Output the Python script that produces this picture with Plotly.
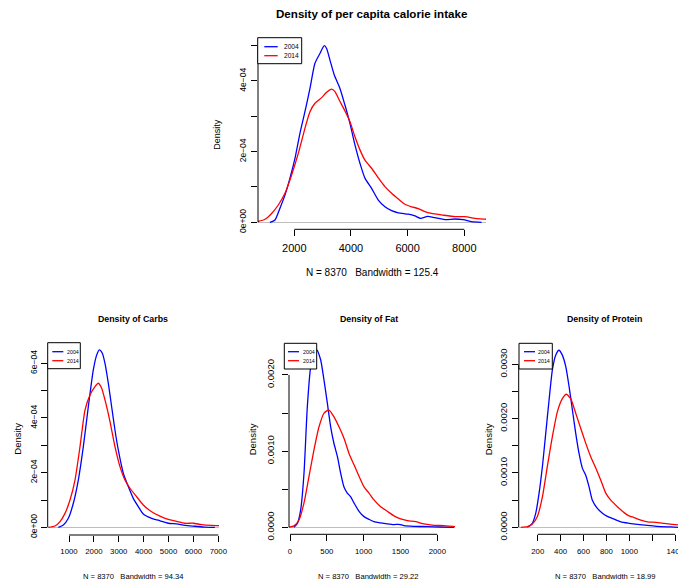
import plotly.graph_objects as go

W, H = 678, 584
BLUE, RED, GRAY = "#0000FF", "#FF0000", "#BEBEBE"
FONT = "Liberation Sans, Arial, Helvetica, sans-serif"
YEARS = ["2004", "2014"]

# ---------------- data ----------------
# Per capita calorie intake
cal_x_2004 = [1141, 1318, 1494, 1671, 1847, 2024, 2200, 2376, 2553, 2729, 2906, 3059, 3141, 3259,
              3412, 3612, 3788, 3965, 4141, 4318, 4494, 4729, 4965, 5200, 5435, 5671, 6024, 6259,
              6459, 6706, 6965, 7318, 7671, 7965, 8259, 8612]
cal_y_2004 = [0.0, 0.066e-4, 0.40e-4, 0.77e-4, 1.25e-4, 1.81e-4, 2.52e-4, 3.13e-4, 3.79e-4, 4.50e-4,
              4.78e-4, 5.00e-4, 4.92e-4, 4.59e-4, 4.17e-4, 3.79e-4, 3.32e-4, 2.80e-4, 2.19e-4, 1.67e-4,
              1.25e-4, 0.96e-4, 0.63e-4, 0.44e-4, 0.33e-4, 0.27e-4, 0.23e-4, 0.18e-4, 0.11e-4, 0.17e-4,
              0.13e-4, 0.075e-4, 0.094e-4, 0.075e-4, 0.02e-4, 0.0]
cal_x_2014 = [612, 965, 1200, 1435, 1671, 1906, 2141, 2376, 2553, 2729, 2965, 3141, 3318, 3435, 3612,
              3788, 3965, 4141, 4318, 4494, 4729, 4965, 5200, 5435, 5671, 5906, 6141, 6376, 6612, 6847,
              7200, 7671, 8024, 8376, 8729, 9100, 9500]
cal_y_2014 = [0.0, 0.085e-4, 0.25e-4, 0.49e-4, 0.82e-4, 1.34e-4, 1.95e-4, 2.66e-4, 3.13e-4, 3.37e-4,
              3.53e-4, 3.68e-4, 3.77e-4, 3.70e-4, 3.42e-4, 3.15e-4, 2.85e-4, 2.42e-4, 2.05e-4, 1.76e-4,
              1.53e-4, 1.26e-4, 1.01e-4, 0.82e-4, 0.66e-4, 0.51e-4, 0.44e-4, 0.39e-4, 0.30e-4, 0.25e-4,
              0.21e-4, 0.16e-4, 0.16e-4, 0.11e-4, 0.09e-4, 0.05e-4, 0.02e-4]
cal_xticks = [2000, 4000, 6000, 8000]
cal_xlabels = ["2000", "4000", "6000", "8000"]
cal_yticks = [0, 1e-4, 2e-4, 3e-4, 4e-4, 5e-4]
cal_ylabels = ["0e+00", "", "2e\u221204", "", "4e\u221204", ""]

# Carbs
carb_x_2004 = [572, 772, 973, 1174, 1375, 1576, 1776, 1977, 2111, 2218, 2339, 2446, 2580, 2714, 2847,
               2981, 3182, 3383, 3584, 3784, 3985, 4320, 4655, 4989, 5324, 5659, 6060, 6462, 6863]
carb_y_2004 = [0.0, 0.085e-4, 0.33e-4, 0.88e-4, 1.73e-4, 2.95e-4, 4.41e-4, 5.76e-4, 6.30e-4, 6.49e-4,
               6.37e-4, 6.00e-4, 5.27e-4, 4.41e-4, 3.56e-4, 2.83e-4, 1.98e-4, 1.49e-4, 1.06e-4, 0.76e-4,
               0.49e-4, 0.33e-4, 0.24e-4, 0.15e-4, 0.13e-4, 0.07e-4, 0.04e-4, 0.01e-4, 0.0]
carb_x_2014 = [170, 438, 639, 839, 1040, 1241, 1442, 1643, 1843, 2044, 2178, 2312, 2446, 2647, 2847,
               3048, 3249, 3450, 3718, 3985, 4320, 4655, 4989, 5324, 5659, 5993, 6328, 6730, 7064,
               7400, 8000]
carb_y_2014 = [0.0, 0.05e-4, 0.21e-4, 0.51e-4, 1.00e-4, 1.73e-4, 2.95e-4, 4.29e-4, 4.84e-4, 5.15e-4,
               5.27e-4, 5.09e-4, 4.66e-4, 3.87e-4, 2.95e-4, 2.22e-4, 1.73e-4, 1.43e-4, 1.12e-4, 0.82e-4,
               0.57e-4, 0.41e-4, 0.29e-4, 0.22e-4, 0.15e-4, 0.15e-4, 0.10e-4, 0.07e-4, 0.06e-4,
               0.04e-4, 0.01e-4]
carb_xticks = [1000, 2000, 3000, 4000, 5000, 6000, 7000]
carb_xlabels = ["1000", "2000", "3000", "4000", "5000", "6000", "7000"]
carb_yticks = [0, 1e-4, 2e-4, 3e-4, 4e-4, 5e-4, 6e-4]
carb_ylabels = ["0e+00", "", "2e\u221204", "", "4e\u221204", "", "6e\u221204"]

# Fat
fat_x_2004 = [54, 100, 145, 190, 235, 281, 326, 362, 416, 462, 507, 552, 597, 643, 688, 733, 778, 824,
              869, 937, 1005, 1072, 1140, 1231, 1321, 1412, 1480, 1548, 1683, 1864, 2045, 2226]
fat_y_2004 = [0.0, 0.05e-3, 0.23e-3, 0.71e-3, 1.58e-3, 2.11e-3, 2.31e-3, 2.33e-3, 2.20e-3, 1.93e-3,
              1.63e-3, 1.32e-3, 1.10e-3, 0.93e-3, 0.71e-3, 0.53e-3, 0.45e-3, 0.40e-3, 0.32e-3, 0.21e-3,
              0.14e-3, 0.105e-3, 0.074e-3, 0.057e-3, 0.044e-3, 0.035e-3, 0.039e-3, 0.022e-3, 0.013e-3,
              0.009e-3, 0.004e-3, 0.0]
fat_x_2014 = [-36, 54, 122, 190, 258, 326, 394, 462, 529, 597, 665, 733, 801, 869, 937, 1005, 1072,
              1140, 1231, 1321, 1412, 1502, 1593, 1706, 1819, 1955, 2090, 2235, 2400]
fat_y_2014 = [0.0, 0.018e-3, 0.096e-3, 0.32e-3, 0.67e-3, 1.02e-3, 1.32e-3, 1.50e-3, 1.54e-3, 1.45e-3,
              1.32e-3, 1.17e-3, 0.97e-3, 0.82e-3, 0.67e-3, 0.53e-3, 0.45e-3, 0.36e-3, 0.27e-3, 0.21e-3,
              0.15e-3, 0.11e-3, 0.088e-3, 0.074e-3, 0.044e-3, 0.026e-3, 0.022e-3, 0.009e-3, 0.003e-3]
fat_xticks = [0, 500, 1000, 1500, 2000]
fat_xlabels = ["0", "500", "1000", "1500", "2000"]
fat_yticks = [0, 0.0005, 0.0010, 0.0015, 0.0020]
fat_ylabels = ["0.0000", "", "0.0010", "", "0.0020"]

# Protein
prot_x_2004 = [110, 153, 183, 212, 241, 270, 299, 328, 357, 386, 415, 445, 474, 503, 532, 561, 590,
               619, 648, 677, 721, 765, 808, 867, 925, 998, 1070, 1158, 1245, 1362, 1426]
prot_y_2004 = [0.0, 0.074e-3, 0.26e-3, 0.63e-3, 1.12e-3, 1.73e-3, 2.34e-3, 2.90e-3, 3.17e-3, 3.26e-3,
               3.17e-3, 2.96e-3, 2.59e-3, 2.16e-3, 1.73e-3, 1.36e-3, 1.09e-3, 0.96e-3, 0.75e-3, 0.50e-3,
               0.35e-3, 0.26e-3, 0.20e-3, 0.15e-3, 0.10e-3, 0.074e-3, 0.055e-3, 0.037e-3, 0.018e-3,
               0.006e-3, 0.0]
prot_x_2014 = [52, 110, 153, 197, 241, 284, 328, 372, 415, 450, 488, 532, 576, 619, 663, 707, 750, 794,
               838, 896, 954, 998, 1041, 1100, 1158, 1231, 1303, 1376, 1426, 1500, 1600]
prot_y_2014 = [0.0, 0.012e-3, 0.061e-3, 0.20e-3, 0.56e-3, 1.12e-3, 1.67e-3, 2.13e-3, 2.37e-3, 2.45e-3,
               2.37e-3, 2.10e-3, 1.82e-3, 1.55e-3, 1.30e-3, 1.09e-3, 0.87e-3, 0.63e-3, 0.50e-3, 0.38e-3,
               0.27e-3, 0.21e-3, 0.18e-3, 0.13e-3, 0.10e-3, 0.092e-3, 0.074e-3, 0.055e-3, 0.043e-3,
               0.025e-3, 0.01e-3]
prot_xticks = [200, 400, 600, 800, 1000, 1200, 1400]
prot_xlabels = ["200", "400", "600", "800", "1000", "", "1400"]
prot_yticks = [0, 0.0005, 0.0010, 0.0015, 0.0020, 0.0025, 0.0030]
prot_ylabels = ["0.0000", "", "0.0010", "", "0.0020", "", "0.0030"]

# ---------------- layout of the four panels (pixels) ----------------
panels = [
    dict(title="Density of per capita calorie intake", sub="N = 8370   Bandwidth = 125.4",
         series=[(cal_x_2004, cal_y_2004), (cal_x_2014, cal_y_2014)],
         xt=(cal_xticks, cal_xlabels), yt=(cal_yticks, cal_ylabels),
         px=(258, 486), py=(38.6, 229.3), xr=(719, 8767), yr=(-0.198e-4, 5.2e-4),
         title_xy=(372, 14), title_size=11.6, sub_xy=(372, 272), sub_size=10,
         ylab_xy=(216.7, 134), ylab_size=9, xtick_size=11, ytick_size=8.5,
         xstand=2, ystand=2,
         legend=dict(box=(257.7, 37.7, 301.7, 63.7), lx=(264.3, 277.7), ly=(46.7, 55.7),
                     tx=291, size=6.6)),
    dict(title="Density of Carbs", sub="N = 8370   Bandwidth = 94.34",
         series=[(carb_x_2004, carb_y_2004), (carb_x_2014, carb_y_2014)],
         xt=(carb_xticks, carb_xlabels), yt=(carb_yticks, carb_ylabels),
         px=(47.7, 219), py=(343.9, 535), xr=(144, 7028), yr=(-0.28e-4, 6.71e-4),
         title_xy=(133, 319), title_size=8.8, sub_xy=(133.4, 576.7), sub_size=7.6,
         ylab_xy=(16.7, 439), ylab_size=9.5, xtick_size=7.8, ytick_size=8.5,
         xstand=3, ystand=0,
         legend=dict(box=(47.7, 342.7, 80.3, 368.7), lx=(52.3, 63.3), ly=(351.7, 360.7),
                     tx=72.5, size=5.3)),
    dict(title="Density of Fat", sub="N = 8370   Bandwidth = 29.22",
         series=[(fat_x_2004, fat_y_2004), (fat_x_2014, fat_y_2014)],
         xt=(fat_xticks, fat_xlabels), yt=(fat_yticks, fat_ylabels),
         px=(289, 455), py=(343, 534.3), xr=(-13.6, 2240), yr=(-0.092e-3, 2.42e-3),
         title_xy=(369, 319), title_size=8.8, sub_xy=(368, 576.7), sub_size=7.6,
         ylab_xy=(252.3, 439), ylab_size=9.5, xtick_size=7.8, ytick_size=9.5,
         xstand=3, ystand=4,
         legend=dict(box=(284.3, 343.3, 316.7, 369), lx=(288, 299), ly=(351.7, 360.7),
                     tx=309, size=5.3)),
    dict(title="Density of Protein", sub="N = 8370   Bandwidth = 18.99",
         series=[(prot_x_2004, prot_y_2004), (prot_x_2014, prot_y_2014)],
         xt=(prot_xticks, prot_xlabels), yt=(prot_yticks, prot_ylabels),
         px=(518.7, 678), py=(343.2, 534.3), xr=(34, 1425), yr=(-0.129e-3, 3.39e-3),
         title_xy=(604.5, 319), title_size=8.8, sub_xy=(604.5, 576.7), sub_size=7.6,
         ylab_xy=(488.3, 439), ylab_size=9.5, xtick_size=7.8, ytick_size=9.5,
         xstand=3, ystand=1,
         legend=dict(box=(519, 343.3, 552.3, 369), lx=(524, 535), ly=(351.7, 360.7),
                     tx=543.7, size=5.3)),
]


def fx(p):
    return p / W


def fy(p):
    return 1 - p / H


fig = go.Figure()
layout = dict(width=W, height=H, autosize=False,
              margin=dict(l=0, r=0, t=0, b=0, pad=0, autoexpand=False),
              paper_bgcolor="white", plot_bgcolor="white", showlegend=False,
              font=dict(family=FONT, color="black"))
shapes, annotations = [], []

for i, p in enumerate(panels):
    n = "" if i == 0 else str(i + 1)
    xa, ya = "x" + n, "y" + n
    for (xs, ys), year, col in zip(p["series"], YEARS, [BLUE, RED]):
        fig.add_trace(go.Scatter(x=xs, y=ys, mode="lines", name=year, xaxis=xa, yaxis=ya,
                                 line=dict(color=col, width=1.3, shape="spline", smoothing=0.6),
                                 hoverinfo="skip"))
    xdom = [fx(p["px"][0]), min(1.0, fx(p["px"][1]))]
    ydom = [fy(p["py"][1]), fy(p["py"][0])]
    layout["xaxis" + n] = dict(domain=xdom, range=list(p["xr"]), anchor=ya, automargin=False,
                               tickmode="array", tickvals=p["xt"][0], ticktext=p["xt"][1],
                               ticks="outside", ticklen=6, tickwidth=1, tickcolor="black",
                               showgrid=False, zeroline=False, showline=False,
                               tickfont=dict(size=p["xtick_size"]),
                               ticklabelstandoff=p["xstand"],
                               ticklabeloverflow="allow", fixedrange=True)
    layout["yaxis" + n] = dict(domain=ydom, range=list(p["yr"]), anchor=xa, automargin=False,
                               tickmode="array", tickvals=p["yt"][0], ticktext=p["yt"][1],
                               tickangle=-90, ticks="outside", ticklen=6, tickwidth=1,
                               tickcolor="black", showgrid=False, showline=False,
                               zeroline=True, zerolinecolor=GRAY, zerolinewidth=1,
                               tickfont=dict(size=p["ytick_size"]),
                               ticklabelstandoff=p["ystand"],
                               fixedrange=True)

    # R-style axis lines spanning first..last tick
    def xmap(v, p=p, xdom=xdom):
        r0, r1 = p["xr"]
        return xdom[0] + (v - r0) / (r1 - r0) * (fx(p["px"][1]) - fx(p["px"][0]))

    def ymap(v, p=p, ydom=ydom):
        r0, r1 = p["yr"]
        return ydom[0] + (v - r0) / (r1 - r0) * (ydom[1] - ydom[0])

    xt = p["xt"][0]
    yt = p["yt"][0]
    shapes.append(dict(type="line", xref="paper", yref="paper",
                       x0=xmap(xt[0]), x1=xmap(xt[-1]), y0=ydom[0], y1=ydom[0],
                       line=dict(color="black", width=1)))
    shapes.append(dict(type="line", xref="paper", yref="paper",
                       x0=xdom[0], x1=xdom[0], y0=ymap(yt[0]), y1=ymap(yt[-1]),
                       line=dict(color="black", width=1)))

    # titles and labels
    annotations.append(dict(text="<b>%s</b>" % p["title"], x=fx(p["title_xy"][0]), y=fy(p["title_xy"][1]),
                            xref="paper", yref="paper", xanchor="center", yanchor="middle",
                            showarrow=False, font=dict(size=p["title_size"])))
    annotations.append(dict(text=p["sub"].replace("   ", "&nbsp;&nbsp;&nbsp;"),
                            x=fx(p["sub_xy"][0]), y=fy(p["sub_xy"][1]),
                            xref="paper", yref="paper", xanchor="center", yanchor="middle",
                            showarrow=False, font=dict(size=p["sub_size"])))
    annotations.append(dict(text="Density", x=fx(p["ylab_xy"][0]), y=fy(p["ylab_xy"][1]),
                            xref="paper", yref="paper", xanchor="center", yanchor="middle",
                            textangle=-90, showarrow=False,
                            font=dict(size=p["ylab_size"])))

    # R-style legend box
    lg = p["legend"]
    bx0, by0, bx1, by1 = lg["box"]
    shapes.append(dict(type="rect", xref="paper", yref="paper",
                       x0=fx(bx0), x1=fx(bx1), y0=fy(by1), y1=fy(by0),
                       line=dict(color="black", width=1), fillcolor="white"))
    for yy, col, year in zip(lg["ly"], [BLUE, RED], YEARS):
        shapes.append(dict(type="line", xref="paper", yref="paper",
                           x0=fx(lg["lx"][0]), x1=fx(lg["lx"][1]), y0=fy(yy), y1=fy(yy),
                           line=dict(color=col, width=1.3)))
        annotations.append(dict(text=year, x=fx(lg["tx"]), y=fy(yy), xref="paper", yref="paper",
                                xanchor="center", yanchor="middle", showarrow=False,
                                font=dict(size=lg["size"])))

layout["shapes"] = shapes
layout["annotations"] = annotations
fig.update_layout(**layout)
post = ("document.documentElement.style.overflow='hidden';"
        "document.body.style.margin='0px';document.body.style.overflow='hidden';")
fig.write_html("out.html", config={"displayModeBar": False}, post_script=post)
